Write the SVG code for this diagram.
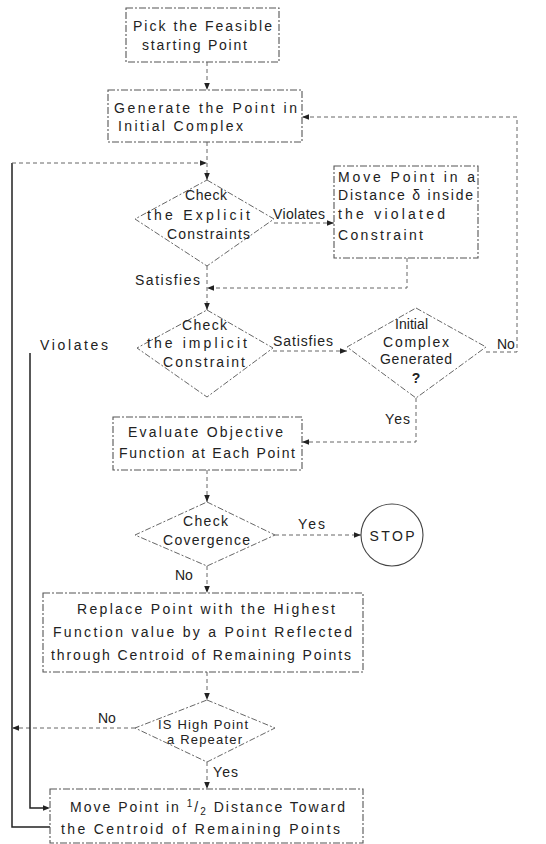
<svg xmlns="http://www.w3.org/2000/svg" width="546" height="844" viewBox="0 0 546 844">
<style>
  .bg{fill:#fff}
  .box{fill:none;stroke:#555;stroke-width:1.1;stroke-dasharray:7 2 2 2}
  .dia{fill:none;stroke:#666;stroke-width:1;stroke-dasharray:6 2 2 2}
  .t{font-family:"Liberation Sans",Arial,sans-serif;font-size:14px;fill:#222}
  .ts{font-family:"Liberation Sans",Arial,sans-serif;font-size:13px;fill:#222}
  .lbl{font-family:"Liberation Sans",Arial,sans-serif;font-size:14px;fill:#222}
  .c{fill:none;stroke:#666;stroke-width:1;stroke-dasharray:4 3}
  .cs{fill:none;stroke:#222;stroke-width:1.5}
</style>
<defs>
  <marker id="ah" viewBox="0 0 10 10" refX="10" refY="5" markerWidth="7" markerHeight="7" markerUnits="userSpaceOnUse" orient="auto">
    <path d="M0,1 L10,5 L0,9 z" fill="#222"/>
  </marker>
</defs>
<rect class="bg" x="0" y="0" width="546" height="844"/>

<g id="connectors">
  <path class="c" d="M207,62 V90" marker-end="url(#ah)"/>
  <path class="c" d="M207,142 V180" marker-end="url(#ah)"/>
  <path class="cs" d="M50,827 H12 V163"/>
  <path class="c" d="M12,163 H207" marker-end="url(#ah)"/>
  <path class="c" d="M274,223 H334" marker-end="url(#ah)"/>
  <path class="c" d="M407,258 V288 H207" marker-end="url(#ah)"/>
  <path class="c" d="M207,266 V310" marker-end="url(#ah)"/>
  <path class="c" d="M273,351 H347" marker-end="url(#ah)"/>
  <path class="c" d="M486,352 H517 V117 H302" marker-end="url(#ah)"/>
  <path class="c" d="M416,398 V442 H302" marker-end="url(#ah)"/>
  <path class="c" d="M207,470 V502" marker-end="url(#ah)"/>
  <path class="c" d="M275,535 H361" marker-end="url(#ah)"/>
  <path class="c" d="M207,566 V593" marker-end="url(#ah)"/>
  <path class="c" d="M207,672 V700" marker-end="url(#ah)"/>
  <path class="c" d="M135,728 H12" marker-end="url(#ah)"/>
  <path class="c" d="M207,762 V789" marker-end="url(#ah)"/>
  <path class="cs" d="M30,353 V808 H44"/>
  <path class="c" d="M44,808 H50" marker-end="url(#ah)"/>
  <text class="lbl" x="273" y="219" textLength="52" lengthAdjust="spacing">Violates</text>
  <text class="lbl" x="135" y="285" textLength="65" lengthAdjust="spacing">Satisfies</text>
  <text class="lbl" x="40" y="350" textLength="68" lengthAdjust="spacing">Violates</text>
  <text class="lbl" x="273" y="346" textLength="60" lengthAdjust="spacing">Satisfies</text>
  <text class="lbl" x="497" y="349">No</text>
  <text class="lbl" x="385" y="424" textLength="25" lengthAdjust="spacing">Yes</text>
  <text class="lbl" x="298" y="529" textLength="27" lengthAdjust="spacing">Yes</text>
  <text class="lbl" x="175" y="580">No</text>
  <text class="lbl" x="98" y="723">No</text>
  <text class="lbl" x="213" y="777" textLength="25" lengthAdjust="spacing">Yes</text>
</g>

<g id="pick">
  <rect class="box" x="126" y="8" width="153" height="54"/>
  <text class="t" x="133" y="31" textLength="139" lengthAdjust="spacing">Pick the Feasible</text>
  <text class="t" x="142" y="50" textLength="105" lengthAdjust="spacing">starting Point</text>
</g>

<g id="generate">
  <rect class="box" x="108" y="90" width="194" height="52"/>
  <text class="t" x="114" y="113" textLength="183" lengthAdjust="spacing">Generate the Point in</text>
  <text class="t" x="118" y="131" textLength="125" lengthAdjust="spacing">Initial Complex</text>
</g>

<g id="check-explicit">
  <polygon class="dia" points="207,180 274,219 207,266 135,219"/>
  <text class="t" x="185" y="200" textLength="42" lengthAdjust="spacing">Check</text>
  <text class="t" x="147" y="220" textLength="103" lengthAdjust="spacing">the Explicit</text>
  <text class="t" x="167" y="239" textLength="83" lengthAdjust="spacing">Constraints</text>
</g>

<g id="move-delta">
  <rect class="box" x="334" y="166" width="144" height="92"/>
  <text class="t" x="338" y="182" textLength="137" lengthAdjust="spacing">Move Point in a</text>
  <text class="t" x="338" y="200" textLength="135" lengthAdjust="spacing">Distance δ inside</text>
  <text class="t" x="338" y="219" textLength="107" lengthAdjust="spacing">the violated</text>
  <text class="t" x="338" y="240" textLength="85" lengthAdjust="spacing">Constraint</text>
</g>

<g id="check-implicit">
  <polygon class="dia" points="207,310 273,348 207,397 137,348"/>
  <text class="t" x="182" y="330" textLength="45" lengthAdjust="spacing">Check</text>
  <text class="t" x="147" y="348" textLength="100" lengthAdjust="spacing">the implicit</text>
  <text class="t" x="163" y="367" textLength="82" lengthAdjust="spacing">Constraint</text>
</g>

<g id="initial-generated">
  <polygon class="dia" points="416,308 486,347 416,398 347,347"/>
  <text class="t" x="395" y="329" textLength="33" lengthAdjust="spacing">Initial</text>
  <text class="t" x="383" y="347" textLength="66" lengthAdjust="spacing">Complex</text>
  <text class="t" x="380" y="364" textLength="72" lengthAdjust="spacing">Generated</text>
  <text class="t" x="416" y="383" text-anchor="middle" font-weight="bold">?</text>
</g>

<g id="evaluate">
  <rect class="box" x="113" y="417" width="189" height="53"/>
  <text class="t" x="128" y="437" textLength="155" lengthAdjust="spacing">Evaluate Objective</text>
  <text class="t" x="119" y="458" textLength="176" lengthAdjust="spacing">Function at Each Point</text>
</g>

<g id="check-convergence">
  <polygon class="dia" points="207,502 275,535 207,566 135,535"/>
  <text class="t" x="183" y="526" textLength="45" lengthAdjust="spacing">Check</text>
  <text class="t" x="163" y="545" textLength="87" lengthAdjust="spacing">Covergence</text>
</g>

<g id="stop">
  <circle cx="392" cy="535" r="31" fill="none" stroke="#444" stroke-width="1.1"/>
  <text class="t" x="392" y="541" text-anchor="middle" font-size="15" textLength="45" lengthAdjust="spacing">STOP</text>
</g>

<g id="replace">
  <rect class="box" x="43" y="593" width="320" height="79"/>
  <text class="t" x="77" y="614" textLength="258" lengthAdjust="spacing">Replace Point with the Highest</text>
  <text class="t" x="53" y="637" textLength="299" lengthAdjust="spacing">Function value by a Point Reflected</text>
  <text class="t" x="51" y="660" textLength="300" lengthAdjust="spacing">through Centroid of Remaining Points</text>
</g>

<g id="repeater">
  <polygon class="dia" points="207,700 275,728 207,762 135,728"/>
  <text class="ts" x="158" y="729" textLength="90" lengthAdjust="spacing">IS High Point</text>
  <text class="ts" x="167" y="744" textLength="75" lengthAdjust="spacing">a Repeater</text>
</g>

<g id="move-half">
  <rect class="box" x="50" y="789" width="313" height="54"/>
  <text class="t" x="70" y="812" textLength="275" lengthAdjust="spacing">Move Point in <tspan font-size="10" dy="-5">1</tspan><tspan dy="5">/</tspan><tspan font-size="10" dy="3">2</tspan><tspan dy="-3"> Distance Toward</tspan></text>
  <text class="t" x="61" y="834" textLength="279" lengthAdjust="spacing">the Centroid of Remaining Points</text>
</g>
</svg>
